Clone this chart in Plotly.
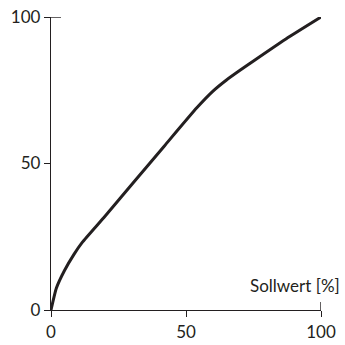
import plotly.graph_objects as go

# Data
sollwert = [0, 2, 5, 8.5, 11.5, 20, 31, 42, 54, 60, 65, 70, 75, 87, 100]
istwert = [0, 7.5, 13.5, 19, 23, 32, 44, 56, 69, 74.7, 78.5, 81.8, 85, 92.5, 100]
tick_vals = [0, 50, 100]
tick_text = ["0", "50", "100"]
x_label = "Sollwert [%]"

ink = "#231f20"
font = dict(family="Lato, 'Open Sans', sans-serif", size=17, color=ink)

fig = go.Figure()
fig.add_trace(go.Scatter(
    x=sollwert, y=istwert, mode="lines",
    line=dict(color=ink, width=3, shape="spline", smoothing=0.5),
    cliponaxis=False, hoverinfo="skip", showlegend=False,
))

axis_common = dict(
    range=[0, 100], tickvals=tick_vals, ticktext=tick_text,
    showgrid=False, zeroline=False, showline=True, linecolor=ink, linewidth=1.4,
    ticks="outside", ticklen=6, tickwidth=1.4, tickcolor=ink,
    tickfont=font, fixedrange=True, automargin=False,
)
fig.update_xaxes(**axis_common)
fig.update_yaxes(**axis_common)

# inner extensions of end ticks at 100
fig.add_shape(type="line", xref="x", yref="y", xsizemode="pixel", xanchor=0,
              x0=0, x1=10, y0=100, y1=100, line=dict(color=ink, width=1.4))
fig.add_shape(type="line", xref="x", yref="y", ysizemode="pixel", yanchor=0,
              y0=0, y1=8, x0=100, x1=100, line=dict(color=ink, width=1.4))

fig.add_annotation(text=x_label, xref="x", yref="y", x=100, y=0,
                   xanchor="right", yanchor="bottom", xshift=21, yshift=12,
                   showarrow=False, font=dict(font, size=17))

fig.update_layout(
    width=345, height=345,
    margin=dict(l=51, r=24, t=17, b=35, autoexpand=False),
    paper_bgcolor="white", plot_bgcolor="white",
    font=font,
)

fig.write_html("out.html", config={"displayModeBar": False},
               post_script="document.body.style.margin='0';document.body.style.overflow='hidden';")
